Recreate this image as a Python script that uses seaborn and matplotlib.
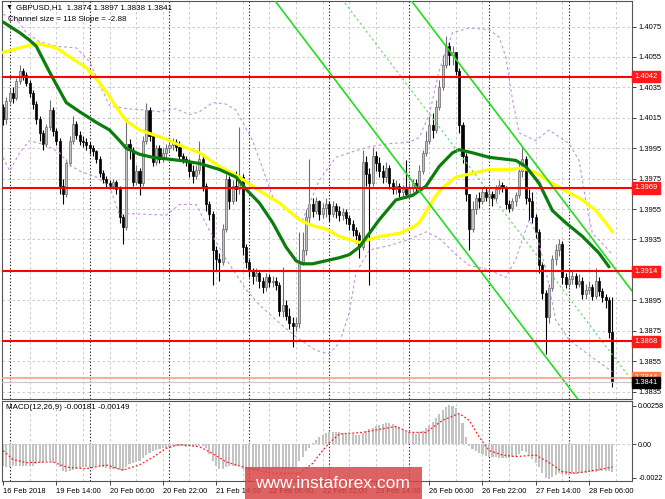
import numpy as np
import pandas as pd
import matplotlib
matplotlib.use("Agg")
import matplotlib.pyplot as plt
import seaborn as sns
from matplotlib.transforms import blended_transform_factory
from matplotlib.patches import Rectangle

# ---------------- data ----------------
# prices are written in pips above 1.3800 (e.g. 242 -> 1.4042)
BASE = 1.3800
first_open = 222
closes = [214, 226, 231, 228, 239, 246, 243, 238, 231, 224,
          214, 205, 198, 209, 220, 206, 200, 170, 165, 185,
          200, 211, 204, 200, 199, 197, 195, 193, 188, 179,
          175, 172, 170, 173, 168, 150, 143, 198, 194, 173,
          180, 172, 200, 220, 203, 186, 195, 188, 192, 195,
          197, 199, 196, 190, 188, 186, 180, 177, 181, 188,
          170, 158, 152, 128, 122, 120, 142, 175, 160, 170,
          168, 176, 130, 120, 114, 111, 113, 108, 104, 110,
          107, 108, 105, 88, 92, 85, 80, 78, 80, 120,
          128, 150, 158, 154, 160, 152, 156, 158, 152, 157,
          154, 151, 153, 149, 145, 141, 138, 130, 186, 178,
          172, 190, 185, 180, 176, 182, 172, 168, 170, 166,
          168, 165, 169, 172, 170, 180, 192, 200, 210, 207,
          222, 235, 250, 262, 256, 258, 246, 210, 190, 165,
          142, 155, 162, 160, 166, 163, 165, 162, 168, 171,
          169, 158, 156, 160, 164, 180, 188, 162, 160, 150,
          140, 118, 100, 84, 103, 122, 128, 132, 110, 106,
          109, 111, 106, 108, 99, 102, 104, 98, 108, 101,
          97, 95, 74, 41]
highs = [224, 229, 234, 235, 241, 250, 248, 245, 240, 233,
         226, 216, 207, 211, 227, 222, 208, 202, 175, 188,
         203, 216, 213, 206, 203, 202, 199, 197, 194, 190,
         181, 177, 174, 175, 174, 170, 152, 215, 201, 196,
         184, 182, 203, 225, 222, 205, 197, 197, 195, 198,
         200, 202, 201, 200, 192, 190, 188, 184, 184, 200,
         190, 172, 160, 154, 131, 126, 145, 178, 177, 174,
         180, 209, 178, 132, 122, 116, 116, 115, 110, 113,
         112, 111, 110, 107, 117, 95, 90, 84, 84, 140,
         140, 155, 188, 162, 163, 161, 159, 162, 160, 160,
         159, 157, 156, 155, 151, 148, 143, 140, 194, 190,
         182, 196, 193, 189, 184, 186, 184, 175, 174, 172,
         171, 187, 172, 175, 175, 184, 194, 206, 216, 218,
         227, 240, 256, 269, 265, 262, 258, 248, 212, 192,
         165, 160, 165, 166, 169, 169, 168, 167, 171, 174,
         173, 170, 161, 162, 166, 185, 196, 190, 168, 166,
         152, 142, 120, 102, 106, 125, 132, 135, 134, 113,
         114, 115, 113, 112, 110, 106, 108, 106, 116, 110,
         103, 99, 97, 97]
lows = [210, 211, 224, 225, 227, 237, 240, 236, 229, 221,
        211, 200, 194, 196, 207, 203, 197, 165, 158, 163,
        183, 198, 201, 197, 196, 194, 191, 190, 185, 176,
        172, 169, 168, 168, 165, 146, 132, 141, 188, 170,
        171, 164, 170, 198, 200, 183, 184, 185, 186, 188,
        193, 194, 193, 188, 185, 183, 176, 172, 175, 178,
        167, 154, 148, 105, 115, 108, 118, 140, 155, 158,
        160, 165, 125, 116, 110, 106, 108, 103, 100, 101,
        104, 104, 102, 85, 84, 82, 76, 64, 75, 77,
        118, 125, 145, 150, 152, 148, 149, 150, 147, 150,
        149, 147, 148, 145, 141, 137, 133, 123, 128, 170,
        105, 170, 180, 176, 172, 173, 168, 165, 165, 163,
        163, 162, 164, 166, 167, 168, 178, 190, 198, 202,
        205, 220, 233, 248, 250, 250, 243, 205, 185, 160,
        128, 140, 152, 156, 158, 160, 158, 157, 160, 165,
        166, 155, 153, 154, 157, 162, 176, 158, 148, 146,
        136, 113, 96, 60, 80, 101, 118, 124, 106, 103,
        104, 106, 103, 104, 96, 96, 99, 95, 96, 98,
        94, 90, 70, 38]

# moving averages (bar index, pips)
yellow_bar = [0, 5, 10, 16, 20, 25, 29, 32, 34, 37, 41, 45, 49, 53, 59, 65, 71, 77, 83, 89,
              93, 97, 101, 107, 113, 119, 123, 125, 127, 130, 132, 136, 140, 146, 152, 156,
              160, 164, 169, 174, 178, 181, 183]
yellow_pips = [258, 261, 264, 261, 255, 248, 238, 229, 222, 213, 207, 204, 201, 197, 192, 183,
               176, 167, 159, 148, 144, 142, 137, 133, 137, 139, 143, 146, 153, 164, 169, 176,
               178, 181, 181, 182, 179, 173, 167, 161, 154, 146, 140]
green_bar = [0, 5, 8, 10, 14, 19, 23, 28, 32, 35, 37, 41, 45, 49, 53, 59, 65, 70, 73, 77, 81,
             85, 88, 90, 93, 97, 101, 104, 107, 113, 118, 123, 127, 131, 135, 137, 141, 146,
             154, 157, 161, 163, 165, 169, 174, 179, 182]
green_pips = [278, 271, 266, 262, 245, 225, 219, 212, 207, 200, 195, 191, 189, 188, 187, 185,
              181, 176, 168, 159, 146, 130, 121, 119, 119, 121, 123, 125, 130, 148, 161, 164,
              170, 183, 192, 194, 192, 189, 187, 183, 172, 163, 154, 146, 137, 126, 117]

# Bollinger-type envelope (bar index, pips)
bb_up_bar = [0, 4, 7, 11, 16, 22, 26, 29, 32, 37, 43, 47, 52, 56, 59, 63, 67, 70, 75, 81, 86,
             90, 95, 100, 104, 110, 116, 122, 125, 128, 131, 135, 140, 146, 149, 151, 153,
             155, 160, 164, 170, 173, 175, 177, 181, 183]
bb_up_pips = [283, 280, 271, 265, 262, 261, 252, 237, 223, 221, 220, 219, 221, 217, 219, 225,
              224, 220, 200, 163, 153, 148, 174, 189, 192, 196, 198, 199, 202, 217, 246, 271,
              274, 273, 268, 255, 227, 205, 200, 207, 198, 187, 161, 139, 130, 125]
bb_lo_bar = [0, 2, 5, 8, 13, 17, 20, 23, 28, 32, 35, 38, 49, 53, 58, 62, 67, 73, 77, 82, 88,
             94, 98, 101, 104, 106, 110, 116, 122, 127, 131, 136, 140, 146, 151, 154, 156,
             158, 160, 163, 166, 170, 176, 183]
bb_lo_pips = [189, 180, 192, 200, 197, 192, 184, 180, 176, 170, 151, 152, 151, 158, 158, 141,
              122, 102, 92, 82, 71, 62, 60, 67, 87, 113, 128, 131, 135, 140, 136, 125, 118,
              115, 110, 122, 135, 148, 140, 115, 82, 69, 59, 48]

# MACD main (histogram) in units of 0.00001
macd_hist = [-140, -150, -150, -145, -145, -140, -140, -140, -145, -140,
             -130, -120, -115, -110, -110, -115, -120, -150, -175, -180,
             -175, -170, -160, -155, -150, -150, -150, -148, -145, -145,
             -150, -155, -160, -165, -165, -170, -175, -150, -130, -125,
             -115, -110, -90, -70, -55, -45, -35, -30, -25, -20,
             -15, -10, -8, -10, -12, -15, -12, -10, -10, -8,
             -12, -25, -60, -110, -140, -165, -165, -150, -145, -140,
             -140, -135, -160, -170, -175, -175, -170, -170, -165, -160,
             -160, -155, -155, -160, -165, -165, -165, -160, -150, -110,
             -80, -40, -20, 10, 30, 50, 65, 75, 80, 80,
             85, 80, 75, 72, 70, 68, 65, 62, 75, 90,
             100, 110, 120, 130, 135, 140, 140, 135, 125, 110,
             95, 85, 80, 75, 70, 80, 90, 110, 130, 150,
             175, 200, 225, 250, 260, 255, 240, 200, 140, 50,
             -10, -30, -45, -55, -65, -75, -80, -85, -85, -88,
             -90, -90, -88, -85, -80, -60, -45, -50, -70, -95,
             -120, -150, -190, -220, -225, -215, -200, -190, -195, -200,
             -200, -195, -195, -190, -190, -188, -185, -185, -180, -178,
             -176, -175, -178, -181]
signal_bar = [0, 3, 7, 15, 19, 25, 31, 36, 41, 45, 49, 53, 59, 63, 67, 73, 81, 89, 93, 96, 98,
              101, 108, 118, 122, 127, 132, 137, 140, 143, 146, 150, 154, 160, 164, 168, 172,
              178, 183]
signal_val = [-40, -100, -120, -115, -150, -160, -135, -170, -135, -85, -25, 0, -15, -60, -115,
              -155, -190, -190, -125, -40, 10, 70, 80, 120, 80, 80, 160, 205, 160, 50, -40,
              -70, -80, -70, -120, -180, -190, -170, -149]

level_prices = [1.4042, 1.3969, 1.3914, 1.3868]
ask_price = 1.3844
bid_price = 1.3841

channel_size = 118      # pips
channel_slope = -2.88   # pips per bar
channel_anchor_bar = 140
channel_anchor_mid = 183  # pips

price_ticks = [1.4075, 1.4055, 1.4035, 1.4015, 1.3995, 1.3975, 1.3955, 1.3935,
               1.3915, 1.3895, 1.3875, 1.3855, 1.3835]
hidden_tick = 1.3915  # covered by the 1.3914 level box in the reference
macd_ticks = [0.00258, 0.0, -0.0022]
macd_tick_labels = ['0.00258', '0.00', '-0.0022']
time_label_bars = [0, 16, 32, 48, 64, 80, 96, 112, 128, 144, 160, 176]
time_labels = ['16 Feb 2018', '19 Feb 14:00', '20 Feb 06:00', '20 Feb 22:00', '21 Feb 14:00',
               '22 Feb 06:00', '22 Feb 22:00', '23 Feb 14:00', '26 Feb 06:00', '26 Feb 22:00',
               '27 Feb 14:00', '28 Feb 06:00']
day_start_bars = [2, 26, 50, 74, 98, 122, 146, 170]

header_text = "GBPUSD,H1  1.3874 1.3897 1.3838 1.3841"
channel_text = "Channel size = 118 Slope = -2.88"
macd_text = "MACD(12,26,9) -0.00181 -0.00149"

# ---------------- build frames ----------------
n = len(closes)
bars = np.arange(n)
c = BASE + np.array(closes) / 1e4
o = np.concatenate([[BASE + first_open / 1e4], c[:-1]])
h = BASE + np.array(highs) / 1e4
l = BASE + np.array(lows) / 1e4
df = pd.DataFrame({"bar": bars, "open": o, "high": np.maximum(h, np.maximum(o, c)),
                   "low": np.minimum(l, np.minimum(o, c)), "close": c})

def line_df(b, p):
    return pd.DataFrame({"bar": b, "price": BASE + np.array(p) / 1e4})

yellow = line_df(yellow_bar, yellow_pips)
green = line_df(green_bar, green_pips)
bb_up = line_df(bb_up_bar, bb_up_pips)
bb_lo = line_df(bb_lo_bar, bb_lo_pips)
macd_df = pd.DataFrame({"bar": bars, "macd": np.array(macd_hist) / 1e5})
sig_df = pd.DataFrame({"bar": signal_bar, "sig": np.array(signal_val) / 1e5})

# ---------------- style ----------------
sns.set_theme(style="white")
plt.rcParams['font.family'] = ['Liberation Sans', 'DejaVu Sans']
plt.rcParams['axes.linewidth'] = 0.8

W, H = 665, 499
fig = plt.figure(figsize=(W / 100, H / 100), dpi=100)
fig.patch.set_facecolor("white")

def px_axes(left, top, right, bottom):
    return fig.add_axes([left / W, 1 - bottom / H, (right - left) / W, (bottom - top) / H])

ax = px_axes(2, 1, 632, 399)
axm = px_axes(2, 401, 632, 481)

XMIN, XMAX = -0.3, 188.9
YMIN, YMAX = 1.38301, 1.40918
MMIN, MMAX = -0.002415, 0.002878
TICK_FS = 5.4

GRID = '#C4C4C4'
for a in (ax, axm):
    a.set_facecolor("white")
    a.set_xlim(XMIN, XMAX)
    for s in a.spines.values():
        s.set_color('#555555')
        s.set_linewidth(0.8)
    for b in range(8, int(XMAX) + 1, 8):
        a.axvline(b, color=GRID, lw=0.6, ls=(0, (3, 3)), zorder=0.5)
    for b in day_start_bars:
        a.axvline(b, color='#222222', lw=0.8, ls=(0, (1.2, 1.8)), zorder=0.6)

ax.set_ylim(YMIN, YMAX)
for t in price_ticks:
    ax.axhline(t, color=GRID, lw=0.6, ls=(0, (3, 3)), zorder=0.5)

# candles
up = df.close >= df.open
body_lo = np.minimum(df.open, df.close)
body_h = np.maximum((df.close - df.open).abs(), 0.00006)
ax.vlines(df.bar[up], df.low[up], df.high[up], color='#6E6E6E', lw=0.8, zorder=2)
ax.vlines(df.bar[~up], df.low[~up], df.high[~up], color='black', lw=0.8, zorder=2)
ax.bar(df.bar[up], body_h[up], bottom=body_lo[up], width=0.62, color='#C2C2C2',
       edgecolor='#666666', linewidth=0.5, zorder=2.1)
ax.bar(df.bar[~up], body_h[~up], bottom=body_lo[~up], width=0.62, color='black',
       edgecolor='black', linewidth=0.5, zorder=2.1)

# envelope
for d in (bb_up, bb_lo):
    sns.lineplot(data=d, x="bar", y="price", ax=ax, color='#C890E0', lw=0.8,
                 linestyle=(0, (2.5, 2.5)), estimator=None, sort=False, zorder=3)

# moving averages
sns.lineplot(data=yellow, x="bar", y="price", ax=ax, color='#FFFF00', lw=2.3,
             estimator=None, sort=False, zorder=4)
sns.lineplot(data=green, x="bar", y="price", ax=ax, color='#0B7D0B', lw=2.3,
             estimator=None, sort=False, zorder=4.2)

# regression channel
xs = np.array([XMIN, XMAX])
mid = BASE + (channel_anchor_mid + channel_slope * (xs - channel_anchor_bar)) / 1e4
half = channel_size / 2 / 1e4
ax.plot(xs, mid + half, color='#22DD22', lw=1.2, zorder=4.5)
ax.plot(xs, mid - half, color='#22DD22', lw=1.2, zorder=4.5)
ax.plot(xs, mid, color='#55DD55', lw=0.8, ls=(0, (2, 2.5)), zorder=4.5)

# horizontal levels
for lv in level_prices:
    ax.axhline(lv, color='#FF0000', lw=1.5, zorder=5)
ax.axhline(ask_price, color='#F3A385', lw=1.2, zorder=5)
ax.axhline(bid_price, color='#C8C8C8', lw=0.9, zorder=5)

ax.set_xlabel("")
ax.set_ylabel("")
ax.yaxis.tick_right()
ax.set_yticks(price_ticks)
ax.set_yticklabels(["" if t == hidden_tick else f"{t:.4f}" for t in price_ticks])
ax.tick_params(axis='y', which='both', right=True, left=False, length=3, width=0.6,
               pad=1.8, labelsize=TICK_FS, colors='#222222', labelcolor='black')
ax.set_xticks([])

trans = blended_transform_factory(ax.transAxes, ax.transData)
box_x = 1.0035
for lv in level_prices:
    ax.text(box_x, lv, f"{lv:.4f}", transform=trans, ha='left', va='center', fontsize=TICK_FS,
            color='white', clip_on=False, zorder=10,
            bbox=dict(boxstyle='square,pad=0.3', fc='#FF1A1A', ec='#FF1A1A'))
ax.text(box_x, ask_price, f"{ask_price:.4f}", transform=trans, ha='left', va='center',
        fontsize=TICK_FS, color='white', clip_on=False, zorder=10,
        bbox=dict(boxstyle='square,pad=0.3', fc='#FF7A45', ec='#FF7A45'))
ax.text(box_x, bid_price, f"{bid_price:.4f}", transform=trans, ha='left', va='center',
        fontsize=TICK_FS, color='white', clip_on=False, zorder=11,
        bbox=dict(boxstyle='square,pad=0.3', fc='black', ec='black'))

# ---------------- MACD ----------------
axm.set_ylim(MMIN, MMAX)
axm.axhline(0, color=GRID, lw=0.6, ls=(0, (3, 3)), zorder=0.5)
axm.bar(macd_df.bar, macd_df.macd, width=0.62, color='#C3C3C3', linewidth=0, zorder=2)
sns.lineplot(data=sig_df, x="bar", y="sig", ax=axm, color='#FF2020', lw=0.9,
             linestyle=(0, (1.5, 1.6)), estimator=None, sort=False, zorder=3)
axm.set_xlabel("")
axm.set_ylabel("")
axm.yaxis.tick_right()
axm.set_yticks(macd_ticks)
axm.set_yticklabels(macd_tick_labels)
axm.tick_params(axis='y', right=True, left=False, length=3, width=0.6, pad=1.5,
                labelsize=5.2, labelcolor='black')
axm.set_xticks(time_label_bars)
axm.set_xticklabels(time_labels)
for lab in axm.get_xticklabels():
    lab.set_horizontalalignment('left')
axm.tick_params(axis='x', bottom=True, length=3, width=0.6, pad=2, labelsize=TICK_FS,
                labelcolor='black')

# ---------------- texts ----------------
def ftext(x, y, s, **kw):
    fig.text(x / W, 1 - y / H, s, **kw)

ftext(6, 7.5, "▼", fontsize=5, va='center', ha='left', color='black')
ftext(16, 7.5, header_text, fontsize=5.8, va='center', ha='left', color='black')
ftext(8, 19.5, channel_text, fontsize=5.8, va='center', ha='left', color='black')
ftext(6.5, 407.5, macd_text, fontsize=5.8, va='center', ha='left', color='black')

# watermark
fig.patches.append(Rectangle((245 / W, 0), (422 - 245) / W, (499 - 467) / H,
                             transform=fig.transFigure, facecolor='#DA4646', alpha=0.85,
                             edgecolor='none', zorder=20))
ftext(332, 484, "www.instaforex.com", fontsize=12.5, ha='center', va='center',
      color='white', zorder=21)

fig.savefig("out.png", dpi=100, facecolor="white")
